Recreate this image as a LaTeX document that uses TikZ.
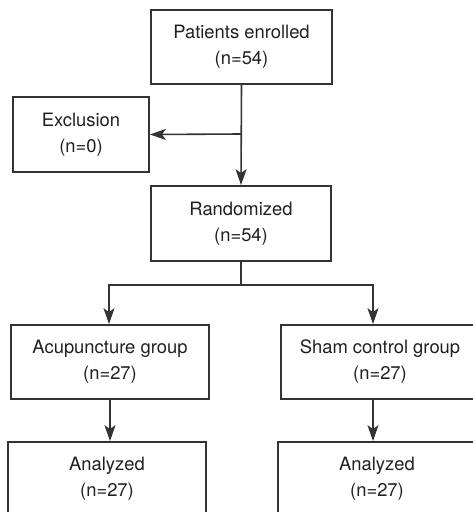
\documentclass[tikz,border=0pt]{standalone}
\usepackage{fontspec}
\setmainfont{TeX Gyre Heros}
\usetikzlibrary{arrows.meta}
\definecolor{linec}{HTML}{333333}
\definecolor{textc}{HTML}{231F20}
\tikzset{
  box/.style={draw=linec, line width=1.8pt, fill=white, inner sep=0pt, align=center,
    text=textc, font=\fontsize{18.4}{26}\selectfont},
  arr/.style={draw=linec, line width=1.6pt, -{Stealth[length=16pt,width=11pt,inset=4pt]}},
  ln/.style={draw=linec, line width=1.6pt}
}
\begin{document}
\begin{tikzpicture}[x=1pt,y=-1pt]
\path[use as bounding box] (0,0) rectangle (473,512);
\clip (0,0) rectangle (473,512);
\node[box, minimum width=181pt, minimum height=74pt] (enr) at (241.5,47) {Patients enrolled\\(n=54)};
\node[box, minimum width=136pt, minimum height=75pt] (exc) at (81,134.5) {Exclusion\\(n=0)};
\node[box, minimum width=180pt, minimum height=75pt] (ran) at (241,223.5) {Randomized\\(n=54)};
\node[box, minimum width=198pt, minimum height=74pt] (acu) at (110,362) {Acupuncture group\\(n=27)};
\node[box, minimum width=198pt, minimum height=74pt] (sham) at (380,362) {Sham control group\\(n=27)};
\node[box, minimum width=198pt, minimum height=74pt] (anl) at (107,479) {Analyzed\\(n=27)};
\node[box, minimum width=198pt, minimum height=74pt] (anr) at (377,479) {Analyzed\\(n=27)};
\coordinate (j1) at (241,134);
\coordinate (j2) at (241,285);
\draw[arr] (enr.south) -- (ran.north);
\draw[arr] (j1) -- (exc.east);
\draw[ln] (ran.south) -- (j2);
\draw[arr] (j2) -| ([xshift=-1pt]acu.north);
\draw[arr] (j2) -| ([xshift=-7pt]sham.north);
\draw[arr] (acu.south) -- (acu.south |- anl.north);
\draw[arr] ([xshift=-7pt]sham.south) -- ([xshift=-7pt]sham.south |- anr.north);
\end{tikzpicture}
\end{document}
